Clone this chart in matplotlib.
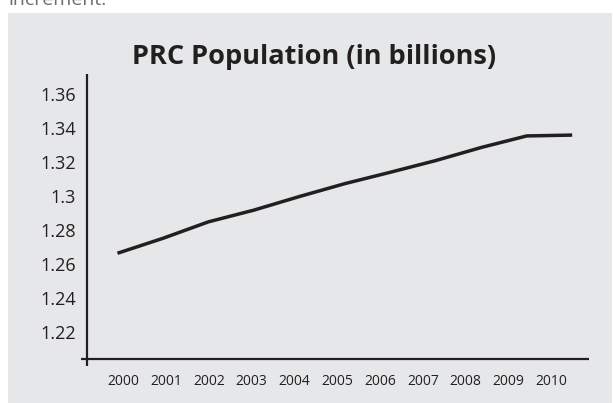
import numpy as np
import matplotlib.pyplot as plt
from matplotlib.patches import Rectangle
from matplotlib.ticker import FormatStrFormatter

years = [2000, 2001, 2002, 2003, 2004, 2005, 2006, 2007, 2008, 2009, 2010]
population = [1.2664, 1.2752, 1.2849, 1.2918, 1.2998, 1.3074, 1.3141, 1.3210, 1.3287, 1.3355, 1.3360]
year_labels = [str(y) for y in years]
y_ticks = [1.22, 1.24, 1.26, 1.28, 1.30, 1.32, 1.34, 1.36]

ink = "#231f20"
plt.rcParams["font.family"] = ["Open Sans", "DejaVu Sans"]

W, H = 613, 403
fig = plt.figure(figsize=(W / 100, H / 100), dpi=100, facecolor="white")

# gray panel behind the chart
fig.patches.append(Rectangle((8 / W, 0), (612 - 8) / W, (H - 13) / H,
                             transform=fig.transFigure, facecolor="#e6e7e8",
                             edgecolor="none", zorder=-10))

# leftover text from the page above, cut off at the top
fig.text(8 / W, 1 - 5 / H, "increment.", fontsize=14, color="#6d6e71",
         va="baseline", ha="left")

ax = fig.add_axes([87 / W, 1 - 358.7 / H, (589 - 87) / W, (358.7 - 74.3) / H])
ax.set_facecolor("none")

ax.plot(years, population, color=ink, lw=2.5, solid_joinstyle="miter",
        solid_capstyle="butt")

ax.set_xlim(1999.33, 2010.37)
ax.set_ylim(1.2043, 1.3718)

# label slots are narrower than the data spacing in the original
ax.set_xticks(2000.13 + 0.941 * np.arange(len(years)))
ax.set_xticklabels(year_labels, fontsize=10, color=ink)
ax.set_yticks(y_ticks)
ax.yaxis.set_major_formatter(FormatStrFormatter("%g"))
ax.tick_params(axis="y", length=0, pad=8, labelsize=13, labelcolor=ink)
ax.tick_params(axis="x", length=0, pad=11, labelsize=10, labelcolor=ink)

for s in ax.spines.values():
    s.set_visible(False)
# axis lines with a small overhang past the crossing
ax.plot([-6 / 502, 1], [0, 0], transform=ax.transAxes, color=ink, lw=1.6,
        clip_on=False, solid_capstyle="butt")
ax.plot([0, 0], [-7.3 / 284.4, 1], transform=ax.transAxes, color=ink, lw=1.6,
        clip_on=False, solid_capstyle="butt")

fig.text(314 / W, 1 - 57 / H, "PRC Population (in billions)", fontsize=19.5,
         fontweight="bold", color=ink, ha="center", va="center")

fig.savefig("out.png", dpi=100)
